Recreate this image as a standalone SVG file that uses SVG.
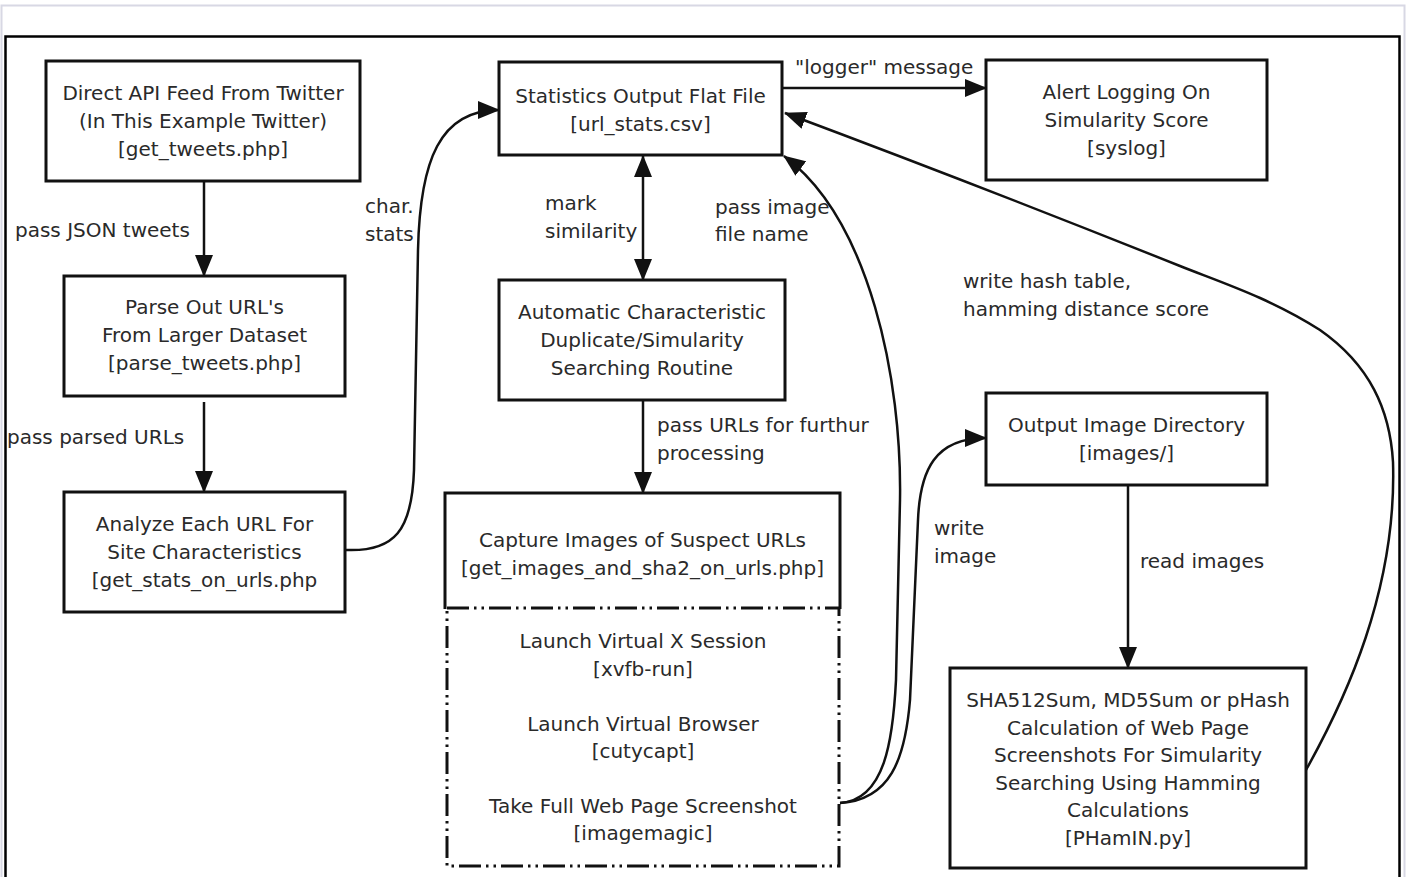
<svg xmlns="http://www.w3.org/2000/svg" width="1407" height="877" viewBox="0 0 1407 877">
  <style>
    .box { fill: #fff; stroke: #111; stroke-width: 3; }
    .t { font-family: "DejaVu Sans", "Liberation Sans", sans-serif; font-size: 20px; fill: #2a2a2a; }
    .c { text-anchor: middle; }
    .wire { fill: none; stroke: #111; stroke-width: 2.5; }
  </style>
  <defs>
    <marker id="arrow" viewBox="0 0 22 18" refX="21" refY="9" markerWidth="22" markerHeight="18" markerUnits="userSpaceOnUse" orient="auto-start-reverse">
      <path d="M0,0 L22,9 L0,18 z" fill="#111"/>
    </marker>
  </defs>

  <rect width="1407" height="877" fill="#fff"/>
  <!-- page frames -->
  <rect x="1.5" y="5.5" width="1403" height="880" fill="none" stroke="#d8d8e4" stroke-width="2"/>
  <rect x="5.5" y="36.5" width="1394" height="850" fill="none" stroke="#000" stroke-width="2.5"/>

  <!-- connectors -->
  <g id="connectors">
    <path class="wire" marker-end="url(#arrow)" d="M204,182 V276"/>
    <path class="wire" marker-end="url(#arrow)" d="M204,402 V492"/>
    <path class="wire" marker-end="url(#arrow)" d="M346,550 C395,552 412,530 414,470 L418,250 C420,160 440,110 499,110"/>
    <path class="wire" marker-start="url(#arrow)" marker-end="url(#arrow)" d="M643,156 V280"/>
    <path class="wire" marker-end="url(#arrow)" d="M643,401 V493"/>
    <path class="wire" marker-end="url(#arrow)" d="M783,88 H986"/>
    <path class="wire" marker-end="url(#arrow)" d="M840,803 C885,800 893,740 896,680 L900,500 C902,380 870,220 784,156"/>
    <path class="wire" marker-end="url(#arrow)" d="M840,803 C890,800 905,760 910,700 L918,520 C920,470 935,438 986,438"/>
    <path class="wire" marker-end="url(#arrow)" d="M1128,486 V668"/>
    <path class="wire" marker-end="url(#arrow)" d="M1306,770 C1345,700 1397,590 1393,462 C1390,410 1370,365 1320,330 C1270,298 1220,282 1180,266 C1050,214 900,156 785,113"/>
  </g>

  <!-- connector labels -->
  <g id="labels" class="t">
    <text x="15" y="237">pass JSON tweets</text>
    <text x="7" y="444">pass parsed URLs</text>
    <text x="365" y="213">char.</text>
    <text x="365" y="241">stats</text>
    <text x="545" y="210">mark</text>
    <text x="545" y="238">similarity</text>
    <text x="715" y="214">pass image</text>
    <text x="715" y="241">file name</text>
    <text x="795" y="74">"logger" message</text>
    <text x="963" y="288">write hash table,</text>
    <text x="963" y="316">hamming distance score</text>
    <text x="657" y="432">pass URLs for furthur</text>
    <text x="657" y="460">processing</text>
    <text x="934" y="535">write</text>
    <text x="934" y="563">image</text>
    <text x="1140" y="568">read images</text>
  </g>

  <g id="twitter-feed">
    <rect class="box" x="46" y="61" width="314" height="120"/>
    <text class="t c" x="203" y="100">Direct API Feed From Twitter</text>
    <text class="t c" x="203" y="128">(In This Example Twitter)</text>
    <text class="t c" x="203" y="156">[get_tweets.php]</text>
  </g>

  <g id="parse-urls">
    <rect class="box" x="64" y="276" width="281" height="120"/>
    <text class="t c" x="204.5" y="314">Parse Out URL's</text>
    <text class="t c" x="204.5" y="342">From Larger Dataset</text>
    <text class="t c" x="204.5" y="370">[parse_tweets.php]</text>
  </g>

  <g id="analyze-urls">
    <rect class="box" x="64" y="492" width="281" height="120"/>
    <text class="t c" x="204.5" y="531">Analyze Each URL For</text>
    <text class="t c" x="204.5" y="559">Site Characteristics</text>
    <text class="t c" x="204.5" y="587">[get_stats_on_urls.php</text>
  </g>

  <g id="stats-file">
    <rect class="box" x="499" y="62" width="283" height="93"/>
    <text class="t c" x="640.5" y="103">Statistics Output Flat File</text>
    <text class="t c" x="640.5" y="131">[url_stats.csv]</text>
  </g>

  <g id="alert-logging">
    <rect class="box" x="986" y="60" width="281" height="120"/>
    <text class="t c" x="1126.5" y="99">Alert Logging On</text>
    <text class="t c" x="1126.5" y="127">Simularity Score</text>
    <text class="t c" x="1126.5" y="155">[syslog]</text>
  </g>

  <g id="similarity-routine">
    <rect class="box" x="499" y="280" width="286" height="120"/>
    <text class="t c" x="642" y="319">Automatic Characteristic</text>
    <text class="t c" x="642" y="347">Duplicate/Simularity</text>
    <text class="t c" x="642" y="375">Searching Routine</text>
  </g>

  <g id="capture-images">
    <path d="M445,609 V493 H840 V609" fill="none" stroke="#111" stroke-width="3"/>
    <rect x="447" y="608" width="392" height="258" fill="none" stroke="#111" stroke-width="3" stroke-dasharray="22 5 2.5 5 2.5 5"/>
    <text class="t c" x="642.5" y="547">Capture Images of Suspect URLs</text>
    <text class="t c" x="642.5" y="575">[get_images_and_sha2_on_urls.php]</text>
    <text class="t c" x="643" y="648">Launch Virtual X Session</text>
    <text class="t c" x="643" y="676">[xvfb-run]</text>
    <text class="t c" x="643" y="731">Launch Virtual Browser</text>
    <text class="t c" x="643" y="758">[cutycapt]</text>
    <text class="t c" x="643" y="813">Take Full Web Page Screenshot</text>
    <text class="t c" x="643" y="840">[imagemagic]</text>
  </g>

  <g id="image-directory">
    <rect class="box" x="986" y="393" width="281" height="92"/>
    <text class="t c" x="1126.5" y="432">Output Image Directory</text>
    <text class="t c" x="1126.5" y="460">[images/]</text>
  </g>

  <g id="hash-calc">
    <rect class="box" x="950" y="668" width="356" height="200"/>
    <text class="t c" x="1128" y="707">SHA512Sum, MD5Sum or pHash</text>
    <text class="t c" x="1128" y="735">Calculation of Web Page</text>
    <text class="t c" x="1128" y="762">Screenshots For Simularity</text>
    <text class="t c" x="1128" y="790">Searching Using Hamming</text>
    <text class="t c" x="1128" y="817">Calculations</text>
    <text class="t c" x="1128" y="845">[PHamIN.py]</text>
  </g>
</svg>
